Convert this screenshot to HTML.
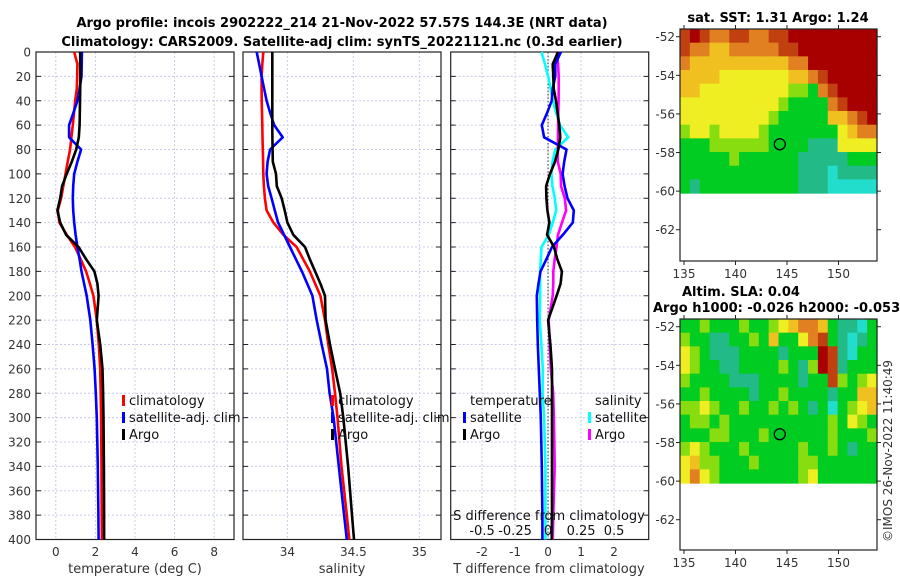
<!DOCTYPE html>
<html><head><meta charset="utf-8"><style>
body{margin:0;background:#fff;}
svg{display:block;font-family:"DejaVu Sans","Liberation Sans",sans-serif;}
.t{font-size:12px;fill:#333;}
.b{font-size:13px;font-weight:bold;fill:#000;}
.l{font-size:13px;fill:#111;}
</style></head><body>
<svg id="c" width="900" height="580" viewBox="0 0 900 580">
<text class="b" x="342" y="27" text-anchor="middle">Argo profile: incois 2902222_214 21-Nov-2022 57.57S 144.3E (NRT data)</text>
<text class="b" x="342" y="46" text-anchor="middle">Climatology: CARS2009. Satellite-adj clim: synTS_20221121.nc (0.3d earlier)</text>
<text class="b" x="778" y="22" text-anchor="middle">sat. SST: 1.31 Argo: 1.24</text>
<text class="b" x="682" y="296">Altim. SLA: 0.04</text>
<text class="b" x="653" y="312">Argo h1000: -0.026 h2000: -0.053</text>
<text class="t" transform="translate(892,542) rotate(-90)">©IMOS 26-Nov-2022 11:40:49</text>
</svg>
<script>
const depths=[0,10,20,30,40,50,60,70,80,90,100,110,120,130,140,150,160,170,180,190,200,220,240,260,280,300,340,380,400];
const tClim=[0.93,1.09,1.08,1.06,0.98,0.92,0.86,0.79,0.72,0.6,0.49,0.38,0.27,0.1,0.18,0.55,0.97,1.25,1.53,1.72,1.9,2.07,2.17,2.24,2.27,2.29,2.31,2.32,2.33];
const tArgo=[1.23,1.23,1.24,1.23,1.22,1.21,1.2,1.16,1.03,0.81,0.55,0.32,0.22,0.08,0.22,0.52,1.15,1.53,1.95,2.1,2.16,2.07,2.24,2.36,2.39,2.41,2.43,2.44,2.44];
const tSat=[1.32,1.31,1.3,1.2,1.09,0.89,0.67,0.67,1.28,1.09,0.93,0.88,0.86,0.88,0.93,1.0,1.09,1.2,1.3,1.43,1.56,1.74,1.86,1.96,2.02,2.07,2.12,2.15,2.16];
const sClim=[33.818,33.81,33.805,33.805,33.806,33.808,33.81,33.812,33.814,33.816,33.818,33.822,33.83,33.843,33.894,33.97,34.07,34.12,34.17,34.21,34.25,34.285,34.31,34.34,34.361,34.38,34.41,34.45,34.469];
const sArgo=[33.886,33.886,33.886,33.886,33.886,33.886,33.886,33.887,33.888,33.89,33.914,33.92,33.957,33.98,34.0,34.045,34.134,34.17,34.21,34.25,34.285,34.29,34.323,34.361,34.4,34.424,34.46,34.49,34.505];
const sSat=[33.768,33.787,33.805,33.824,33.843,33.87,33.9,33.965,33.869,33.85,33.843,33.855,33.881,33.905,33.93,33.975,34.02,34.065,34.11,34.15,34.19,34.222,34.26,34.3,34.32,34.35,34.39,34.43,34.45];
const depthTicks=[0,20,40,60,80,100,120,140,160,180,200,220,240,260,280,300,320,340,360,380,400];
const tTicks=[0,2,4,6,8];
const sTicks=[34,34.5,35];
const dTicks=[-2,-1,0,1,2];
const sdTicks=["-0.5","-0.25","0","0.25","0.5"];
const sdTickVals=[-0.5,-0.25,0,0.25,0.5];
const mapLonTicks=[135,140,145,150];
const mapLatTicks=[-52,-54,-56,-58,-60,-62];
const argoLon=144.3, argoLat=-57.57;
const palette=["#22ddcc","#22bb88","#00cc22","#88dd11","#eeee22","#f0c020","#e08020","#c04010","#a80000"];
const sstGrid=["78766776677888888888","76655666667788888888","65555555555668888888","55554444444556788888","55444444444332678888","44444444443222267888","44444444432222255678","34434444322222224566","22233333322221114444","22222322222211111222","22222222222211101111","21222222222211100000"];
const slaGrid=["22322232234566521102","32211223252246721012","43211122221222871022","43221122223213871222","32222111222212273234","22322221223222212255","33432232232321202345","23323222222222232432","22233222322222232223","34322232222232232122","45332223222233222222","46432222222234222222"];

const svg=document.getElementById('c');
const NS='http://www.w3.org/2000/svg';
function mk(tag,attrs,parent){const e=document.createElementNS(NS,tag);for(const k in attrs)e.setAttribute(k,attrs[k]);(parent||svg).appendChild(e);return e;}
const Y0=52,Y1=539.5;
const yD=d=>Y0+d/400*(Y1-Y0);
const panels=[
 {x0:36,x1:234,lo:-1,hi:9,name:'temperature-panel'},
 {x0:243,x1:441,lo:33.664,hi:35.164,name:'salinity-panel'},
 {x0:450.7,x1:648.7,lo:-2.95,hi:3.05,name:'difference-panel'}];
panels.forEach(p=>{p.x=v=>p.x0+(v-p.lo)/(p.hi-p.lo)*(p.x1-p.x0);});

function drawFrame(p,ticks,fmt,gridOnly){
  const g=mk('g',{});
  
  
  ticks.forEach(v=>{const x=p.x(v);
    const gl=mk('line',{x1:x,x2:x,y1:Y0,y2:Y1,stroke:'#c8cce8','stroke-dasharray':'2,2','stroke-width':1},g);
    
    if(!gridOnly){const t=mk('text',{x:x,y:556,class:'t','text-anchor':'middle'},g);t.textContent=fmt(v);
      }
  });
  depthTicks.forEach(d=>{const y=yD(d);
    const gl=mk('line',{x1:p.x0,x2:p.x1,y1:y,y2:y,stroke:'#c8cce8','stroke-dasharray':'2,2','stroke-width':1},g);
    
    mk('line',{x1:p.x0,x2:p.x0+5,y1:y,y2:y,stroke:'#222'},g);
    mk('line',{x1:p.x1-5,x2:p.x1,y1:y,y2:y,stroke:'#222'},g);
  });
  const r=mk('rect',{x:p.x0,y:Y0,width:p.x1-p.x0,height:Y1-Y0,fill:'none',stroke:'#222','stroke-width':1.2},g);
  
  return g;
}
function line(p,vals,color,name,g){
  const pts=vals.map((v,i)=>p.x(v).toFixed(1)+','+yD(depths[i]).toFixed(1)).join(' ');
  const l=mk('polyline',{points:pts,fill:'none',stroke:color,'stroke-width':2.6,'stroke-linejoin':'round'},g);
  
}
function legend(x,y,items,g){
  items.forEach((it,i)=>{
    const yy=y+i*17;
    mk('rect',{x:x,y:yy-8,width:3,height:11,fill:it[0]},g);
    const t=mk('text',{x:x+7,y:yy+2,class:'l'},g);t.textContent=it[1];
    
  });
}
depthTicks.forEach(d=>{const t=mk('text',{x:31,y:yD(d)+4.5,class:'t','text-anchor':'end'});t.textContent=d;
  });

const P1=panels[0],P2=panels[1],P3=panels[2];
const g1=drawFrame(P1,tTicks,v=>v);
line(P1,tClim,'#ff0000','temp-climatology-line',g1);
line(P1,tSat,'#0000ff','temp-satellite-line',g1);
line(P1,tArgo,'#000000','temp-argo-line',g1);
legend(122,403,[['#ff0000','climatology'],['#0000ff','satellite-adj. clim'],['#000','Argo']],g1);
let t=mk('text',{x:135,y:573,class:'t','text-anchor':'middle',style:'font-size:13px'});t.textContent='temperature (deg C)';


const g2=drawFrame(P2,sTicks,v=>v);
line(P2,sClim,'#ff0000','sal-climatology-line',g2);
line(P2,sSat,'#0000ff','sal-satellite-line',g2);
line(P2,sArgo,'#000000','sal-argo-line',g2);
legend(331,403,[['#ff0000','climatology'],['#0000ff','satellite-adj. clim'],['#000','Argo']],g2);
t=mk('text',{x:342,y:573,class:'t','text-anchor':'middle',style:'font-size:13px'});t.textContent='salinity';


const g3=drawFrame(P3,dTicks,v=>v);
mk('line',{x1:P3.x(0),x2:P3.x(0),y1:Y0,y2:Y1,stroke:'#333','stroke-dasharray':'1.5,2','stroke-width':1},g3);
line(P3,sSat.map((v,i)=>(v-sClim[i])*4),'#00ffff','sdiff-satellite-line',g3);
line(P3,sArgo.map((v,i)=>(v-sClim[i])*4),'#ff00ff','sdiff-argo-line',g3);
line(P3,tSat.map((v,i)=>v-tClim[i]),'#0000ff','tdiff-satellite-line',g3);
line(P3,tArgo.map((v,i)=>v-tClim[i]),'#000000','tdiff-argo-line',g3);
t=mk('text',{x:470,y:405,class:'l'},g3);t.textContent='temperature';

t=mk('text',{x:595,y:405,class:'l'},g3);t.textContent='salinity';

legend(463,420,[['#0000ff','satellite'],['#000','Argo']],g3);
legend(588,420,[['#00ffff','satellite'],['#ff00ff','Argo']],g3);
t=mk('text',{x:549,y:520,class:'l','text-anchor':'middle'},g3);t.textContent='S difference from climatology';

sdTickVals.forEach((v,i)=>{const tt=mk('text',{x:P3.x(v*4),y:535,class:'l','text-anchor':'middle'},g3);tt.textContent=sdTicks[i];
  });
t=mk('text',{x:549,y:573,class:'t','text-anchor':'middle',style:'font-size:13px'});t.textContent='T difference from climatology';


function drawMap(top,bottom,grid,name){
  const x0=680,x1=877;
  const latTop=-51.6,pxPerLat=19.3;
  const lonX=lon=>684+(lon-135)*10.3;
  const latY=lat=>top+(latTop-lat)*pxPerLat;
  const g=mk('g',{});
  
  const dataBottom=latY(-60.1);
  const rows=grid.length,cols=grid[0].length;
  const cw=(x1-x0)/cols,ch=(dataBottom-top)/rows;
  grid.forEach((row,r)=>{for(let c=0;c<cols;c++){
    const cell=mk('rect',{x:(x0+c*cw).toFixed(2),y:(top+r*ch).toFixed(2),width:(cw+0.6).toFixed(2),height:(ch+0.6).toFixed(2),fill:palette[+row[c]]},g);
    
  }});
  mk('rect',{x:x0,y:top,width:x1-x0,height:bottom-top,fill:'none',stroke:'#222','stroke-width':1.2},g);
  mapLatTicks.forEach(lat=>{const y=latY(lat);
    mk('line',{x1:x0-4,x2:x0,y1:y,y2:y,stroke:'#222'},g);mk('line',{x1:x1,x2:x1+4,y1:y,y2:y,stroke:'#222'},g);
    const tt=mk('text',{x:x0-5,y:y+4.5,class:'t','text-anchor':'end'},g);tt.textContent=lat;
    });
  mapLonTicks.forEach(lon=>{const x=lonX(lon);
    mk('line',{x1:x,x2:x,y1:bottom,y2:bottom+4,stroke:'#222'},g);mk('line',{x1:x,x2:x,y1:top-4,y2:top,stroke:'#222'},g);
    const tt=mk('text',{x:x,y:bottom+17,class:'t','text-anchor':'middle'},g);tt.textContent=lon;
    });
  const m=mk('circle',{cx:lonX(argoLon),cy:latY(argoLat),r:5.5,fill:'none',stroke:'#000','stroke-width':1.3},g);
  
}
drawMap(29,261,sstGrid,'sst-map');
drawMap(319,550,slaGrid,'sla-map');
</script>
</body></html>
